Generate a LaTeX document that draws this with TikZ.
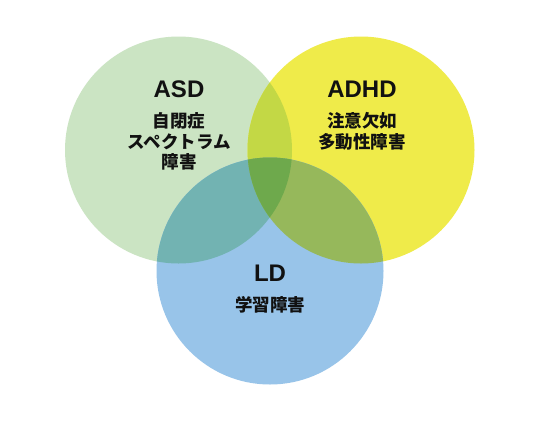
\documentclass[tikz,border=0pt]{standalone}
\usepackage{fontspec}
\setmainfont{Liberation Sans}
\newfontfamily\jpfont{Noto Sans CJK JP}
\usetikzlibrary{positioning}
\definecolor{vnGreen}{HTML}{CBE4C3}
\definecolor{vnYellow}{HTML}{EFEB4A}
\definecolor{vnBlue}{HTML}{98C4E9}
\definecolor{vnGY}{HTML}{C3D845}
\definecolor{vnGB}{HTML}{72B3B2}
\definecolor{vnYB}{HTML}{96B85B}
\definecolor{vnAll}{HTML}{6EA94C}
\definecolor{vnText}{HTML}{111111}
\tikzset{
  vn-title/.style={font=\fontsize{24}{26}\selectfont\bfseries, text=vnText,
    inner sep=0pt},
  vn-sub/.style={font=\fontsize{17.5}{20.5}\selectfont\jpfont\bfseries,
    text=vnText, align=center, inner sep=0pt}
}
\newcommand{\vnRad}{113.5pt}
\begin{document}
\begin{tikzpicture}[x=1pt, y=-1pt]
\useasboundingbox (0,0) rectangle (540,421);
\fill[white] (0,0) rectangle (540,421);
\coordinate (asdC) at (178.5,150);
\coordinate (adhdC) at (361,150);
\coordinate (ldC) at (270,271);

% --- Kreise ---
\fill[vnGreen] (asdC) circle[radius=\vnRad];
\fill[vnYellow] (adhdC) circle[radius=\vnRad];
\fill[vnBlue] (ldC) circle[radius=\vnRad];

% --- Schnittflaechen ---
\begin{scope}
  \clip (asdC) circle[radius=\vnRad];
  \fill[vnGY] (adhdC) circle[radius=\vnRad];
  \fill[vnGB] (ldC) circle[radius=\vnRad];
\end{scope}
\begin{scope}
  \clip (adhdC) circle[radius=\vnRad];
  \fill[vnYB] (ldC) circle[radius=\vnRad];
  \clip (asdC) circle[radius=\vnRad];
  \fill[vnAll] (ldC) circle[radius=\vnRad];
\end{scope}

% --- Texte ---
\node[vn-title] (asd) at (179,89) {ASD};
\node[vn-sub, below=15pt of asd] (asdsub) {自閉症\\スペクトラム\\障害};
\node[vn-title] (adhd) at (362,89) {ADHD};
\node[vn-sub, below=15pt of adhd] (adhdsub) {注意欠如\\多動性障害};
\node[vn-title] (ld) at (270,273) {LD};
\node[vn-sub, below=15pt of ld] (ldsub) {学習障害};
\end{tikzpicture}
\end{document}
